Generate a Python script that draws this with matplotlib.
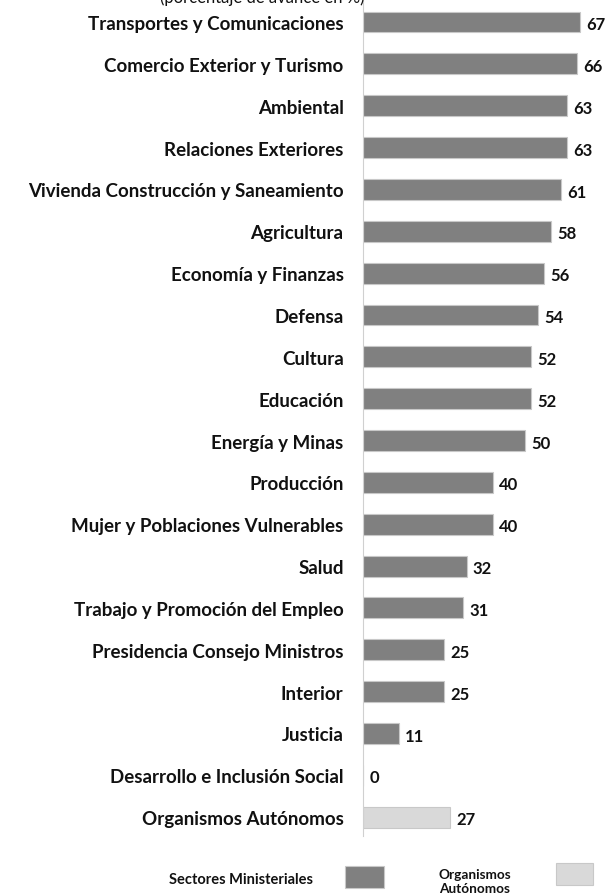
import matplotlib
matplotlib.use("Agg")
import matplotlib.pyplot as plt
from matplotlib.patches import Rectangle

# Sector names and values (%), top to bottom
sectores = [
    "Transportes y Comunicaciones",
    "Comercio Exterior y Turismo",
    "Ambiental",
    "Relaciones Exteriores",
    "Vivienda Construcción y Saneamiento",
    "Agricultura",
    "Economía y Finanzas",
    "Defensa",
    "Cultura",
    "Educación",
    "Energía y Minas",
    "Producción",
    "Mujer y Poblaciones Vulnerables",
    "Salud",
    "Trabajo y Promoción del Empleo",
    "Presidencia Consejo Ministros",
    "Interior",
    "Justicia",
    "Desarrollo e Inclusión Social",
    "Organismos Autónomos",
]
valores = [67, 66, 63, 63, 61, 58, 56, 54, 52, 52, 50, 40, 40, 32, 31, 25, 25, 11, 0, 27]
grupo = ["Sectores Ministeriales"] * 19 + ["Organismos Autónomos"]

colores = {"Sectores Ministeriales": "#808080", "Organismos Autónomos": "#d9d9d9"}
FONT = "Lato"

W, H = 607, 895
fig = plt.figure(figsize=(W / 100, H / 100), dpi=100)
ax = fig.add_axes([363 / W, 1 - 837 / H, (W - 363) / W, 837 / H])

n = len(sectores)
ypos = list(range(n))
ax.barh(ypos, valores, height=0.5,
        color=[colores[g] for g in grupo],
        edgecolor="#c8c8c8", linewidth=0.8)
ax.set_ylim(n - 0.55, -0.55)
ax.set_xlim(0, (W - 363) / 3.24)

for y, v in zip(ypos, valores):
    ax.text(v + 1.9, y + 0.05, f"{v}", ha="left", va="center",
            fontsize=12, fontweight="bold", family=FONT, color="#111111")

ax.set_yticks(ypos)
ax.set_yticklabels(sectores, fontsize=13.5, fontweight="bold", family=FONT, color="#111111")
ax.tick_params(axis="y", length=0, pad=14)
ax.set_xticks([])
for s in ["top", "right", "bottom"]:
    ax.spines[s].set_visible(False)
ax.spines["left"].set_color("#d0d0d0")
ax.spines["left"].set_linewidth(0.8)

# subtitle, mostly above the top edge
fig.text(262 / W, 1 + 2 / H, "(porcentaje de avance en %)", ha="center", va="center",
         fontsize=12, family=FONT, color="#111111")

# legend
fig.text(241 / W, 1 - 880 / H, "Sectores Ministeriales", ha="center", va="center",
         fontsize=10.5, fontweight="bold", family=FONT, color="#111111")
fig.patches.append(Rectangle((345 / W, 1 - 889 / H), 39 / W, 22 / H, transform=fig.transFigure,
                             facecolor=colores["Sectores Ministeriales"], edgecolor="#c8c8c8", lw=0.8))
fig.text(475 / W, 1 - 882 / H, "Organismos\nAutónomos", ha="center", va="center",
         fontsize=9.8, fontweight="bold", family=FONT, color="#111111", linespacing=1.25)
fig.patches.append(Rectangle((556 / W, 1 - 886 / H), 37 / W, 22 / H, transform=fig.transFigure,
                             facecolor=colores["Organismos Autónomos"], edgecolor="#c8c8c8", lw=0.8))

fig.savefig("out.png", dpi=100)
